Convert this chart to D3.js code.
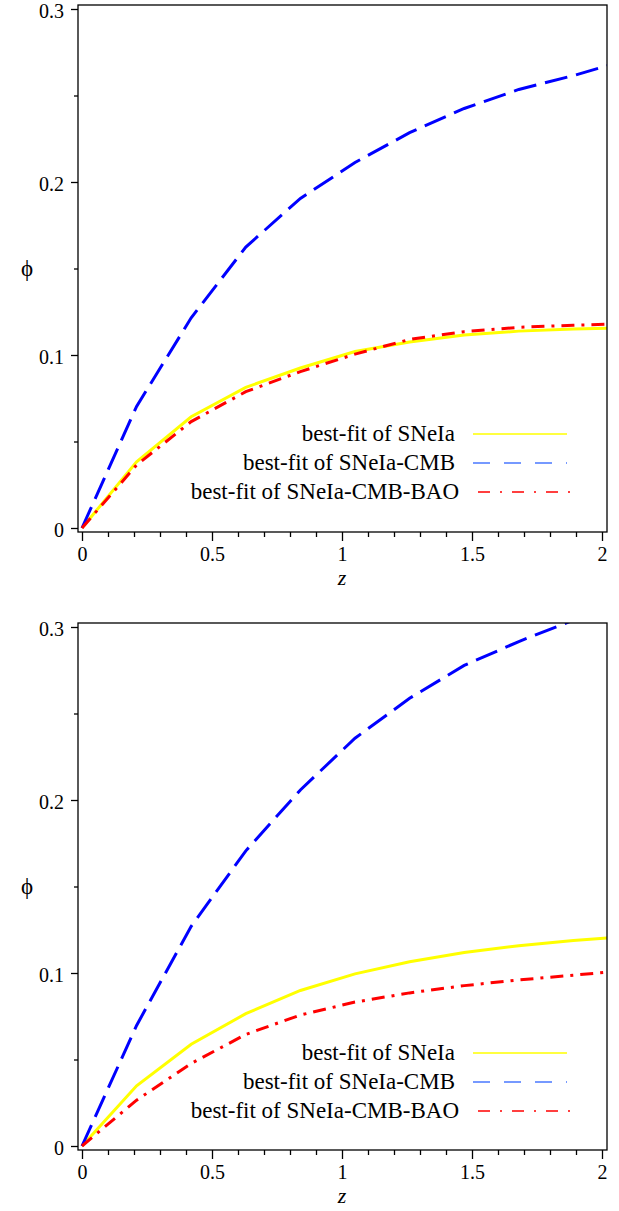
<!DOCTYPE html>
<html><head><meta charset="utf-8">
<script src="https://cdn.jsdelivr.net/npm/d3@7"></script>
<style>
body{margin:0;background:#fff;}
text{font-family:"Liberation Serif","Times New Roman",serif;fill:#000;}
</style></head>
<body>
<svg id="c" width="619" height="1211"></svg>
<script>
// ---- data ----
const zValues = [0, 0.21, 0.42, 0.63, 0.84, 1.05, 1.26, 1.47, 1.68, 1.89, 2.02];
const topSNeIa = [0, 0.0383, 0.0643, 0.0813, 0.0925, 0.1020, 0.1075, 0.1115, 0.1138, 0.1150, 0.1155];
const topSNeIaCMB = [0, 0.0703, 0.1215, 0.1624, 0.1905, 0.2113, 0.2285, 0.2425, 0.2535, 0.2615, 0.2672];
const topSNeIaCMBBAO = [0, 0.0364, 0.0615, 0.0788, 0.0904, 0.1005, 0.1090, 0.1135, 0.1160, 0.1172, 0.1178];
const botSNeIa = [0, 0.0348, 0.0588, 0.0765, 0.0899, 0.0995, 0.1065, 0.1118, 0.1158, 0.1188, 0.1203];
const botSNeIaCMB = [0, 0.0697, 0.1270, 0.1706, 0.2058, 0.2357, 0.2588, 0.2778, 0.2916, 0.3040, 0.3110];
const botSNeIaCMBBAO = [0, 0.0265, 0.0477, 0.0645, 0.0757, 0.0832, 0.0885, 0.0927, 0.0960, 0.0987, 0.1005];
const seriesNames = ["best-fit of SNeIa", "best-fit of SNeIa-CMB", "best-fit of SNeIa-CMB-BAO"];
const xMajorTicks = [0, 0.5, 1, 1.5, 2];
const xTickLabels = ["0", "0.5", "1", "1.5", "2"];
const xMinorTicks = [0.1,0.2,0.3,0.4,0.6,0.7,0.8,0.9,1.1,1.2,1.3,1.4,1.6,1.7,1.8,1.9];
const yMajorTicks = [0, 0.1, 0.2, 0.3];
const yTickLabels = ["0", "0.1", "0.2", "0.3"];
const yMinorTicks = [0.05, 0.15, 0.25];
const xLabel = "z";
const yLabel = "\u03D5";

// ---- styles ----
const styles = [
  {color:"#ffff00", dash:null, legendColor:"#ffff00", legendDash:null},
  {color:"#0000ff", dash:"23,9", legendColor:"#4a78ff", legendDash:"17,14"},
  {color:"#ff0000", dash:"13,7,3,7", legendColor:"#ff0000", legendDash:"12,10,2,10"}
];

const svg = d3.select("#c");

function panel(idx, top, seriesList) {
  const frame = {l:78, r:607, t:top, b:top+527};
  const x = d3.scaleLinear().domain([0,2]).range([82,602]);
  const y = d3.scaleLinear().domain([0,0.3]).range([frame.b-4, frame.t+4]);
  const g = svg.append("g");

  const clipId = "clip"+idx;
  g.append("clipPath").attr("id",clipId).append("rect")
    .attr("x",frame.l).attr("y",frame.t).attr("width",frame.r-frame.l).attr("height",frame.b-frame.t);

  const line = d3.line().x((d,i)=>x(zValues[i])).y(d=>y(d));
  const plotG = g.append("g").attr("clip-path",`url(#${clipId})`);
  seriesList.forEach((vals,i)=>{
    plotG.append("path").datum(vals)
      .attr("d",line).attr("fill","none")
      .attr("stroke",styles[i].color).attr("stroke-width",3)
      .attr("stroke-dasharray",styles[i].dash)
      .attr("stroke-linejoin","miter");
  });

  // frame
  g.append("rect").attr("x",frame.l).attr("y",frame.t)
    .attr("width",frame.r-frame.l).attr("height",frame.b-frame.t)
    .attr("fill","none").attr("stroke","#000").attr("stroke-width",1.3);

  // x axis
  const xAx = d3.axisBottom(x).tickValues(xMajorTicks).tickSize(9).tickPadding(6)
    .tickFormat((d,i)=>xTickLabels[i]);
  const xg = g.append("g").attr("transform",`translate(0,${frame.b})`).call(xAx);
  const xAxm = d3.axisBottom(x).tickValues(xMinorTicks).tickSize(5).tickFormat("");
  const xgm = g.append("g").attr("transform",`translate(0,${frame.b})`).call(xAxm);
  // y axis
  const yAx = d3.axisLeft(y).tickValues(yMajorTicks).tickSize(7).tickPadding(7)
    .tickFormat((d,i)=>yTickLabels[i]);
  const yg = g.append("g").attr("transform",`translate(${frame.l},0)`).call(yAx);
  const yAxm = d3.axisLeft(y).tickValues(yMinorTicks).tickSize(4).tickFormat("");
  const ygm = g.append("g").attr("transform",`translate(${frame.l},0)`).call(yAxm);
  [xg,xgm,yg,ygm].forEach(a=>{
    a.select(".domain").remove();
    a.selectAll("line").attr("stroke","#000").attr("stroke-width",1.3);
    a.selectAll("text").attr("font-family","Liberation Serif").attr("font-size",20).attr("fill","#000");
  });
  yg.selectAll("text").attr("dy","0.42em");

  // axis labels
  g.append("text").attr("x",(x(0)+x(2))/2).attr("y",frame.b+53)
    .attr("text-anchor","middle").attr("font-size",22).attr("font-style","italic").text(xLabel);
  g.append("text").attr("x",27).attr("y",(frame.t+frame.b)/2+7)
    .attr("text-anchor","middle").attr("font-size",23).text(yLabel);

  // legend
  const legTop = idx===0 ? frame.t+429 : frame.t+430;
  seriesNames.forEach((name,i)=>{
    const ly = legTop + i*29;
    g.append("text").attr("x",455+ (i===2?4:0)).attr("y",ly+7)
      .attr("text-anchor","end").attr("font-size",23).text(name);
    const x1 = i===2 ? 478 : 473;
    g.append("line").attr("x1",x1).attr("x2",x1+94).attr("y1",ly).attr("y2",ly)
      .attr("stroke",styles[i].legendColor).attr("stroke-width",1.6)
      .attr("stroke-dasharray",styles[i].legendDash);
  });
}

panel(0, 5, [topSNeIa, topSNeIaCMB, topSNeIaCMBBAO]);
panel(1, 623, [botSNeIa, botSNeIaCMB, botSNeIaCMBBAO]);
</script>
</body></html>
